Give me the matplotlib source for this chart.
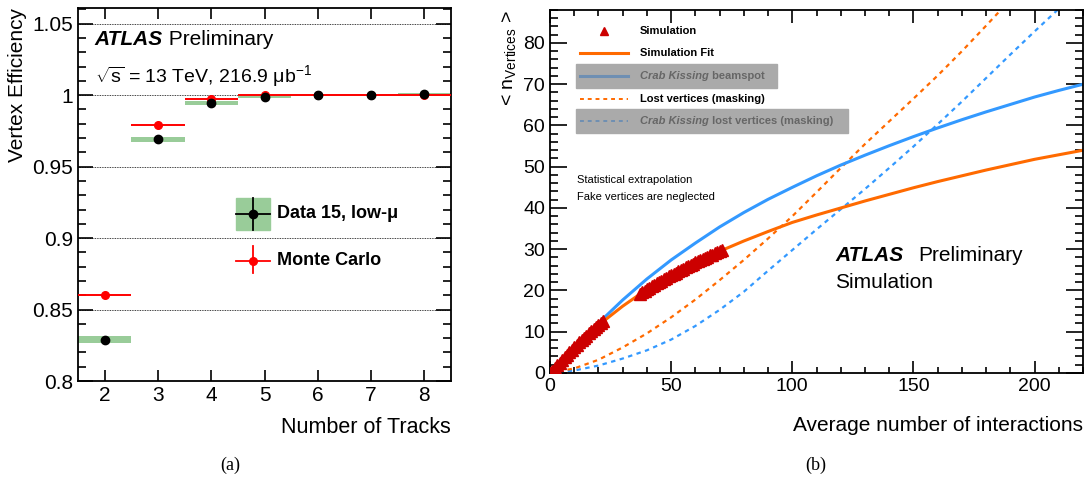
import matplotlib
matplotlib.use("Agg")
import matplotlib.pyplot as plt
from matplotlib.lines import Line2D
from matplotlib.patches import Rectangle
from matplotlib.ticker import MultipleLocator

plt.rcParams['font.family'] = ['Liberation Sans', 'DejaVu Sans']
plt.rcParams['mathtext.fontset'] = 'custom'
plt.rcParams['mathtext.rm'] = 'Liberation Sans'
plt.rcParams['mathtext.it'] = 'Liberation Sans:italic'

# ---- panel (a): vertex efficiency vs number of tracks
n_tracks = [2, 3, 4, 5, 6, 7, 8]
eff_data = [0.829, 0.969, 0.9945, 0.999, 1.0, 1.0, 1.0005]
eff_data_err = [0.0025, 0.0015, 0.0012, 0.0008, 0.0008, 0.0008, 0.001]
eff_mc = [0.860, 0.979, 0.9975, 0.9998, 1.0, 1.0, 1.0]

# ---- panel (b): <n_vertices> vs average number of interactions
sim_x = [0, 1, 2, 3, 4, 5, 6, 7, 8, 9, 10, 11, 12, 13, 14, 15, 16, 17, 18, 19, 20, 21, 22,
         37, 38, 39, 40, 41, 42, 43, 44, 45, 46, 47, 48, 49, 50, 51, 52, 53, 54, 55, 56,
         57, 58, 59, 60, 61, 62, 63, 64, 65, 66, 67, 68, 69, 70, 71]
sim_y = [0.0, 0.6, 1.3, 1.9, 2.5, 3.2, 3.8, 4.4, 5.0, 5.6, 6.2, 6.8, 7.4, 7.9, 8.5, 9.0,
         9.6, 10.1, 10.6, 11.1, 11.6, 12.1, 12.6,
         19.2, 19.6, 19.9, 20.3, 20.7, 21.0, 21.4, 21.7, 22.1, 22.4, 22.7, 23.1, 23.4, 23.7,
         24.0, 24.3, 24.7, 25.0, 25.3, 25.6, 25.9, 26.2, 26.5, 26.8, 27.1, 27.4, 27.6, 27.9,
         28.2, 28.5, 28.7, 29.0, 29.3, 29.5, 29.8]

fit_x = [0, 10, 20, 30, 40, 50, 60, 70, 80, 90, 100, 110, 120, 130, 140, 150, 160, 170,
         180, 190, 200, 210, 220]
fit_y = [0, 6.2, 11.6, 16.2, 20.3, 23.7, 26.8, 29.5, 32.0, 34.3, 36.5, 38.3, 40.0, 41.7,
         43.3, 44.9, 46.4, 47.8, 49.2, 50.5, 51.8, 52.9, 54.0]

crab_x = [0, 10, 20, 30, 40, 50, 60, 70, 80, 90, 100, 110, 120, 130, 140, 150, 160, 170,
          180, 190, 200, 210, 220]
crab_y = [0, 6.4, 12.1, 17.7, 22.8, 27.4, 31.5, 35.4, 38.9, 42.1, 45.0, 47.8, 50.4, 52.8,
          55.1, 57.3, 59.4, 61.4, 63.3, 65.1, 66.9, 68.5, 70.0]

lost_x = [0, 10, 20, 30, 40, 50, 60, 70, 80, 90, 100, 110, 120, 130, 140, 150, 160, 170,
          180, 190]
lost_y = [0, 1.1, 3.2, 6.2, 9.6, 13.5, 17.8, 22.5, 27.4, 32.6, 38.0, 43.8, 49.7, 55.5,
          61.0, 66.5, 72.1, 78.0, 84.2, 90.5]

crab_lost_x = [0, 10, 20, 30, 40, 50, 60, 70, 80, 90, 100, 110, 120, 130, 140, 150, 160,
               170, 180, 190, 200, 210, 220]
crab_lost_y = [0, 0.6, 1.8, 3.5, 5.5, 8.1, 11.4, 15.3, 19.7, 24.8, 29.8, 34.8, 39.7, 44.6,
               49.7, 54.9, 60.3, 65.8, 71.5, 77.2, 82.8, 88.3, 93.8]

GREEN = '#99cc99'
ORANGE = '#ff6a00'
BLUE = '#3399ff'
DARKRED = '#cc0000'
GRAYBOX = '#aaaaaa'
GRAYTXT = '#666666'


def root_ticks(ax, ylen, xlen):
    ax.tick_params(which='both', direction='in', top=True, right=True, width=1.2)
    ax.tick_params(axis='y', which='major', length=ylen)
    ax.tick_params(axis='y', which='minor', length=ylen / 2)
    ax.tick_params(axis='x', which='major', length=xlen)
    ax.tick_params(axis='x', which='minor', length=xlen / 2)
    for s in ax.spines.values():
        s.set_linewidth(1.3)


def chain_text(ax, x, y, parts, **common):
    # write several pieces of text one after another on the same line
    renderer = ax.figure.canvas.get_renderer()
    for s, kw in parts:
        t = ax.text(x, y, s, transform=ax.transAxes, **common, **kw)
        bb = t.get_window_extent(renderer=renderer)
        x = ax.transAxes.inverted().transform((bb.x1, bb.y0))[0]


fig = plt.figure(figsize=(10.9, 4.9), dpi=100)

# ------------------------------------------------------------ (a)
ax1 = fig.add_axes([0.0716, 0.2224, 0.3422, 0.7613])
ax1.bar(n_tracks, [2 * e for e in eff_data_err],
        bottom=[v - e for v, e in zip(eff_data, eff_data_err)],
        width=1.0, color=GREEN, zorder=2)
ax1.errorbar(n_tracks, eff_mc, xerr=0.5, fmt='o', color='red', ms=5.5, lw=1.4,
             capsize=0, zorder=3)
ax1.plot(n_tracks, eff_data, 'o', color='black', ms=6, zorder=4)
ax1.set_xlim(1.5, 8.5)
ax1.set_ylim(0.8, 1.061)
ax1.xaxis.set_major_locator(MultipleLocator(1))
ax1.yaxis.set_minor_locator(MultipleLocator(0.01))
ax1.set_yticks([0.8, 0.85, 0.9, 0.95, 1.0, 1.05])
ax1.set_yticklabels(['0.8', '0.85', '0.9', '0.95', '1', '1.05'])
ax1.grid(axis='y', which='major', linestyle=(0, (1, 1)), color='black', lw=0.6)
root_ticks(ax1, 11, 8)
ax1.tick_params(labelsize=15)
ax1.set_ylabel('Vertex Efficiency', fontsize=15, loc='top')
ax1.set_xlabel('Number of Tracks', fontsize=15.5, loc='right', labelpad=9)

chain_text(ax1, 0.045, 0.915, [('ATLAS', dict(fontweight='bold', fontstyle='italic')),
                              (' Preliminary', dict())], fontsize=15, va='center')
ax1.text(0.045, 0.818, r'$\sqrt{\rm s}$ = 13 TeV, 216.9 μb$^{-1}$', transform=ax1.transAxes,
         fontsize=14, va='center')

# legend (a)
A = ax1.transAxes
ax1.add_patch(Rectangle((0.424, 0.405), 0.091, 0.086, transform=A, color=GREEN, zorder=5))
ax1.add_line(Line2D([0.424, 0.515], [0.448, 0.448], transform=A, color='black', lw=1.3,
                    zorder=6))
ax1.add_line(Line2D([0.4695, 0.4695], [0.405, 0.491], transform=A, color='black', lw=1.3,
                    zorder=6))
ax1.plot([0.4695], [0.448], 'o', color='black', ms=6, transform=A, zorder=7)
ax1.text(0.534, 0.448, 'Data 15, low-μ', transform=A, fontsize=13, fontweight='bold',
         va='center')
ax1.add_line(Line2D([0.424, 0.515], [0.322, 0.322], transform=A, color='red', lw=1.3,
                    zorder=6))
ax1.add_line(Line2D([0.4695, 0.4695], [0.290, 0.362], transform=A, color='red', lw=1.3,
                    zorder=6))
ax1.plot([0.4695], [0.322], 'o', color='red', ms=5.5, transform=A, zorder=7)
ax1.text(0.534, 0.322, 'Monte Carlo', transform=A, fontsize=13, fontweight='bold',
         va='center')

# ------------------------------------------------------------ (b)
ax2 = fig.add_axes([0.5046, 0.2388, 0.489, 0.7408])
ax2.plot(crab_lost_x, crab_lost_y, color=BLUE, lw=1.6, ls=(0, (2, 2)))
ax2.plot(lost_x, lost_y, color=ORANGE, lw=1.6, ls=(0, (2, 2)))
ax2.plot(crab_x, crab_y, color=BLUE, lw=2.2)
ax2.plot(fit_x, fit_y, color=ORANGE, lw=2.2)
ax2.plot(sim_x, sim_y, '^', color=DARKRED, ms=8, mec=DARKRED, lw=0, zorder=5)
ax2.set_xlim(0, 220)
ax2.set_ylim(0, 88)
ax2.xaxis.set_major_locator(MultipleLocator(50))
ax2.xaxis.set_minor_locator(MultipleLocator(10))
ax2.yaxis.set_major_locator(MultipleLocator(10))
ax2.yaxis.set_minor_locator(MultipleLocator(2))
root_ticks(ax2, 12, 9)
ax2.tick_params(labelsize=14)
ax2.set_ylabel(r'< n$_{\rm Vertices}$ >', fontsize=14, loc='top')
ax2.set_xlabel('Average number of interactions', fontsize=15, loc='right', labelpad=15)

# legend (b)
T = ax2.transAxes
ax2.plot([0.101], [0.942], '^', color=DARKRED, ms=6, transform=T)
ax2.text(0.169, 0.942, 'Simulation', transform=T, fontsize=8, fontweight='bold', va='center')
ax2.add_line(Line2D([0.056, 0.146], [0.882, 0.882], transform=T, color=ORANGE, lw=2.2))
ax2.text(0.169, 0.882, 'Simulation Fit', transform=T, fontsize=8, fontweight='bold',
         va='center')
ax2.add_patch(Rectangle((0.049, 0.785), 0.377, 0.066, transform=T, color=GRAYBOX, zorder=1))
ax2.add_line(Line2D([0.056, 0.146], [0.818, 0.818], transform=T, color='#6e8fb3', lw=2.2,
                    zorder=2))
chain_text(ax2, 0.169, 0.818, [('Crab Kissing', dict(fontstyle='italic')),
                               (' beamspot', dict())],
           fontsize=8, fontweight='bold', color=GRAYTXT, va='center', zorder=2)
ax2.add_line(Line2D([0.056, 0.146], [0.755, 0.755], transform=T, color=ORANGE, lw=1.4,
                    ls=(0, (2, 2))))
ax2.text(0.169, 0.755, 'Lost vertices (masking)', transform=T, fontsize=8, fontweight='bold',
         va='center')
ax2.add_patch(Rectangle((0.049, 0.661), 0.51, 0.066, transform=T, color=GRAYBOX, zorder=1))
ax2.add_line(Line2D([0.056, 0.146], [0.694, 0.694], transform=T, color='#6e8fb3', lw=1.4,
                    ls=(0, (2, 2)), zorder=2))
chain_text(ax2, 0.169, 0.694, [('Crab Kissing', dict(fontstyle='italic')),
                               (' lost vertices (masking)', dict())],
           fontsize=8, fontweight='bold', color=GRAYTXT, va='center', zorder=2)

ax2.text(0.051, 0.532, 'Statistical extrapolation', transform=T, fontsize=8, va='center')
ax2.text(0.051, 0.486, 'Fake vertices are neglected', transform=T, fontsize=8, va='center')

ax2.text(0.535, 0.325, 'ATLAS', transform=T, fontsize=15, fontweight='bold',
         fontstyle='italic', va='center')
ax2.text(0.69, 0.325, 'Preliminary', transform=T, fontsize=15, va='center')
ax2.text(0.535, 0.248, 'Simulation', transform=T, fontsize=15, va='center')

# panel captions
fig.text(0.211, 0.05, '(a)', fontsize=13, family='Liberation Serif', ha='center', va='center')
fig.text(0.748, 0.05, '(b)', fontsize=13, family='Liberation Serif', ha='center', va='center')

fig.savefig('out.png', dpi=100)
